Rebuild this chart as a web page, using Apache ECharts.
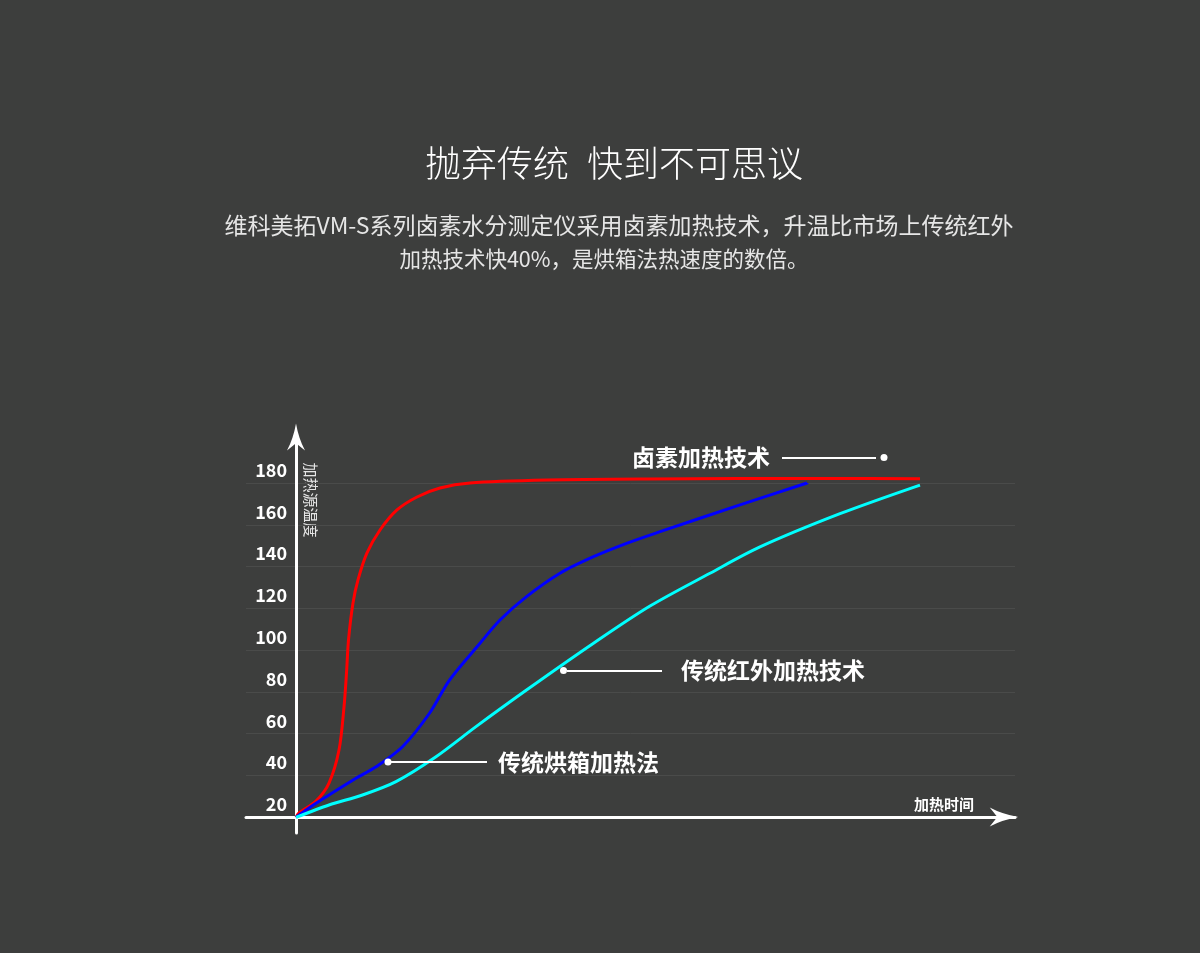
<!DOCTYPE html>
<html>
<head>
<meta charset="utf-8">
<script src="https://cdn.jsdelivr.net/npm/echarts@6/dist/echarts.min.js"></script>
<style>
html,body{margin:0;padding:0;background:#3d3e3d;}
#chart{width:1200px;height:953px;}
</style>
</head>
<body>
<div id="chart"></div>
<script>
// ---- data (time in arbitrary units, temperature) ----
const halogenTime = [0, 0.6, 4.0, 6.6, 8.6, 9.6, 10.1, 10.5, 11.4, 12.4, 14.2, 16.8, 20.2, 24.2, 28.8, 34.8, 50.2, 70.2, 106.8, 124.8];
const halogenTemp = [20, 22.1, 27.8, 36.4, 52.2, 72.8, 89.1, 104.9, 122.6, 133.6, 146.5, 157.5, 167.1, 173.3, 177.6, 180.0, 181.4, 181.9, 182.2, 182.0];

const ovenTime = [0, 4.0, 12.0, 16.0, 21.3, 26.7, 30.7, 36.8, 40.8, 46.1, 52.8, 59.5, 66.1, 72.8, 88.8, 102.2];
const ovenTemp = [20, 26.7, 38.7, 44.2, 53.8, 69.8, 85.7, 103.3, 114.4, 125.6, 136.8, 144.7, 151.1, 156.7, 169.5, 180.0];

const infraredTime = [0, 6.6, 13.3, 20.0, 28.0, 36.0, 46.1, 59.5, 70.8, 82.8, 92.8, 108.8, 124.8];
const infraredTemp = [20, 25.9, 30.7, 37.1, 49.0, 63.4, 80.9, 103.3, 121.1, 136.8, 149.4, 165.3, 179.0];

const yTickLabels = [20, 40, 60, 80, 100, 120, 140, 160, 180];

const seriesNames = ['卤素加热技术', '传统烘箱加热法', '传统红外加热技术'];
const seriesColors = ['#ff0000', '#0000ff', '#00ffff'];

const titleText = '抛弃传统\u2002快到不可思议';
const subLine1 = '维科美拓VM-S系列卤素水分测定仪采用卤素加热技术，升温比市场上传统红外';
const subLine2 = '加热技术快40%，是烘箱法热速度的数倍。';
const yAxisName = '加热源温度';
const xAxisName = '加热时间';

// callout anchors (data coordinates): dot, line start, line end
const halogenCallout = {dot: [117.6, 192.2], from: [97.2, 192.2], to: [116.0, 192.2]};
const infraredCallout = {dot: [53.5, 90.3], from: [54.2, 90.3], to: [73.2, 90.3]};
const ovenCallout = {dot: [18.4, 46.5], from: [19.0, 46.5], to: [38.2, 46.5]};

// ---- build ----
const zip = (xs, ys) => xs.map((x, i) => [x, ys[i]]);
const FONT = '"Noto Sans CJK SC", "Noto Sans", sans-serif';
const arrowPath = 'path://M10,0 Q13,17 20,30 L10,22 L0,30 Q7,17 10,0 Z';

function callout(c, name, pos, dist) {
  return {
    markLine: {
      silent: true,
      symbol: ['none', 'none'],
      lineStyle: {color: '#ffffff', width: 2, type: 'solid'},
      emphasis: {disabled: true},
      label: {
        show: true, position: pos, distance: dist, formatter: name,
        color: '#ffffff', fontSize: 23, fontWeight: 'bold', fontFamily: FONT
      },
      data: [[{coord: c.from}, {coord: c.to}]]
    },
    markPoint: {
      silent: true,
      symbol: 'circle', symbolSize: 7,
      itemStyle: {color: '#ffffff'},
      label: {show: false},
      data: [{coord: c.dot}]
    }
  };
}

function lineSeries(name, data, color, extra) {
  return Object.assign({
    name: name, type: 'line', data: data,
    smooth: 0.3, showSymbol: false, symbol: 'none',
    lineStyle: {color: color, width: 3},
    itemStyle: {color: color},
    emphasis: {disabled: true},
    clip: false, z: 3
  }, extra);
}

const chart = echarts.init(document.getElementById('chart'));
chart.setOption({
  backgroundColor: '#3d3e3d',
  animation: false,
  grid: {left: 246, right: 185, top: 437, bottom: 120, containLabel: false},
  xAxis: {
    type: 'value', min: -10, max: 143.8,
    offset: -16,
    axisLine: {show: true, onZero: false, lineStyle: {color: '#ffffff', width: 3},
      symbol: ['none', arrowPath], symbolSize: [19, 32], symbolOffset: [0, -11]},
    axisTick: {show: false},
    axisLabel: {show: false},
    splitLine: {show: false}
  },
  yAxis: {
    type: 'value', min: 12.5, max: 202,
    offset: -50,
    axisLine: {show: true, onZero: false, lineStyle: {color: '#ffffff', width: 3},
      symbol: ['none', arrowPath], symbolSize: [18, 28]},
    axisTick: {show: false, customValues: yTickLabels},
    axisLabel: {
      customValues: yTickLabels,
      color: '#ffffff', fontSize: 18, fontWeight: 'bold', fontFamily: FONT,
      margin: 9, verticalAlign: 'bottom', lineHeight: 26
    },
    splitLine: {show: true, lineStyle: {color: '#4a4b4a', width: 1}}
  },
  graphic: [
    {type: 'text', x: 614, y: 163, style: {text: titleText, fill: '#ffffff', fontSize: 36, fontWeight: 300, fontFamily: FONT, align: 'center', verticalAlign: 'middle'}},
    {type: 'text', x: 619, y: 225, style: {text: subLine1, fill: '#e6e6e6', fontSize: 23, fontFamily: FONT, align: 'center', verticalAlign: 'middle'}},
    {type: 'text', x: 604, y: 259, style: {text: subLine2, fill: '#e6e6e6', fontSize: 21.5, fontFamily: FONT, align: 'center', verticalAlign: 'middle'}},
    {type: 'text', x: 311, y: 500, rotation: -Math.PI / 2, style: {text: yAxisName, fill: '#e6e6e6', fontSize: 15, fontFamily: FONT, align: 'center', verticalAlign: 'middle'}},
    {type: 'text', x: 944, y: 804, style: {text: xAxisName, fill: '#ffffff', fontSize: 15, fontWeight: 'bold', fontFamily: FONT, align: 'center', verticalAlign: 'middle'}}
  ],
  series: [
    lineSeries(seriesNames[0], zip(halogenTime, halogenTemp), seriesColors[0], callout(halogenCallout, seriesNames[0], 'start', 12)),
    lineSeries(seriesNames[1], zip(ovenTime, ovenTemp), seriesColors[1], callout(ovenCallout, seriesNames[1], 'end', 11)),
    lineSeries(seriesNames[2], zip(infraredTime, infraredTemp), seriesColors[2], callout(infraredCallout, seriesNames[2], 'end', 19))
  ]
});
</script>
</body>
</html>
